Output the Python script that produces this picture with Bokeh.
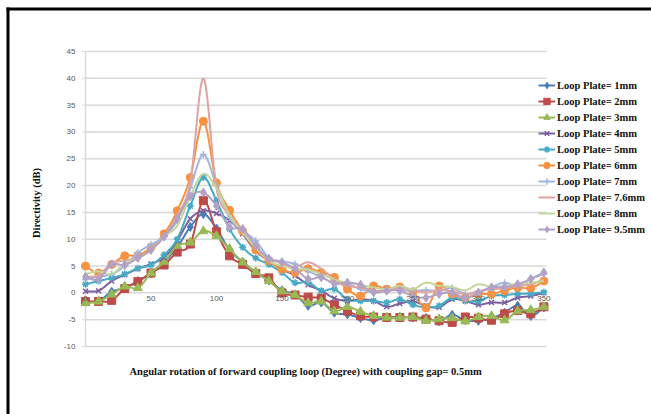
import numpy as np
from bokeh.plotting import figure
from bokeh.models import Range1d, Legend, LegendItem, BoxAnnotation, ColumnDataSource
from bokeh.core.properties import value
from bokeh.embed import file_html
from bokeh.resources import INLINE

# Angular rotation of the forward coupling loop (degrees)
angle = list(range(0, 360, 10))

# Directivity (dB) per loop plate size
plate_1mm = [-1.6, -1.5, 0.2, 0.9, 2.2, 3.7, 5.8, 8.5, 12.3, 14.7, 12.0, 8.0, 5.8, 3.8, 2.3, 0.5, -0.3, -2.4,
             -1.8, -3.7, -4.0, -4.7, -5.1, -4.6, -4.5, -4.6, -4.7, -5.3, -4.1, -5.1, -5.2, -4.7, -3.7, -2.4, -4.3, -2.7]
plate_2mm = [-1.6, -1.6, -1.4, 0.8, 2.1, 3.7, 5.2, 7.6, 9.1, 17.2, 11.4, 6.9, 5.3, 3.6, 2.8, 0.0, -0.4, -0.8,
             -1.0, -2.2, -3.4, -4.3, -4.5, -4.6, -4.6, -4.5, -4.9, -5.2, -5.5, -4.5, -4.7, -5.1, -3.9, -3.3, -3.9, -2.6]
plate_3mm = [-1.9, -1.6, -0.3, 1.2, 0.9, 3.7, 5.8, 8.8, 9.4, 11.5, 10.6, 8.2, 5.7, 3.9, 2.2, 0.3, -0.4, -1.9,
             -1.6, -3.4, -2.6, -3.5, -4.3, -4.6, -4.6, -4.5, -5.2, -4.9, -4.7, -5.3, -4.5, -4.3, -5.1, -3.4, -3.2, -2.6]
plate_4mm = [0.3, 0.4, 2.2, 3.4, 4.5, 5.4, 6.6, 9.7, 13.8, 15.3, 14.8, 13.5, 11.0, 7.8, 6.0, 4.4, 3.2, 1.5,
             0.4, -1.0, -1.5, -1.2, -1.5, -2.6, -2.0, -1.6, -2.4, -2.7, -1.2, -1.5, -2.2, -1.8, -1.8, -0.9, -0.6, 0.0]
plate_5mm = [1.6, 2.2, 2.8, 3.5, 4.6, 5.2, 7.1, 10.0, 16.2, 21.5, 17.2, 11.9, 8.5, 6.5, 5.3, 3.8, 1.9, 2.0,
             0.4, 0.7, -1.2, -1.5, -1.5, -1.8, -1.2, -2.2, -2.7, -2.4, -0.9, -1.5, -1.5, -0.6, -0.4, -0.2, -0.1, 0.1]
plate_6mm = [5.0, 3.7, 5.3, 6.9, 7.0, 8.5, 11.0, 15.3, 21.5, 32.0, 20.5, 15.4, 11.5, 8.0, 6.0, 4.4, 3.8, 4.5,
             3.8, 2.9, 0.7, -0.6, 1.3, 0.7, 1.1, 0.2, -2.8, 1.3, -0.2, -0.9, -0.2, -0.2, 0.4, 1.0, 0.9, 2.2]
plate_7mm = [2.5, 3.0, 3.5, 5.0, 7.5, 9.0, 10.5, 13.5, 19.6, 25.8, 20.0, 14.0, 11.6, 9.7, 6.6, 5.9, 5.4, 4.1,
             2.9, 1.9, 1.7, 0.7, 0.1, 0.7, 0.5, 0.4, 0.5, 0.4, 0.9, -0.2, 0.2, 1.1, 1.9, 1.3, 2.6, 3.5]
plate_7_6mm = [3.0, 3.3, 5.5, 6.0, 6.5, 8.0, 10.5, 14.5, 20.5, 40.0, 19.5, 14.5, 11.5, 8.5, 6.5, 5.5, 4.8, 5.7,
               4.5, 2.5, 1.3, 1.0, 0.4, 0.5, 0.9, 0.5, 0.1, 0.5, 0.3, -0.2, 0.3, 0.7, 0.8, 1.3, 1.6, 2.5]
plate_8mm = [3.5, 4.0, 3.5, 5.5, 6.5, 8.0, 10.5, 12.5, 18.0, 22.2, 19.5, 14.5, 11.2, 8.5, 6.0, 5.0, 4.5, 4.3,
             3.5, 2.5, 1.9, 1.5, 1.0, 0.7, 1.3, 0.7, 1.9, 1.3, 1.1, 0.5, 1.6, 1.1, 1.3, 1.7, 1.9, 2.2]
plate_9_5mm = [3.0, 2.5, 5.3, 5.2, 6.5, 8.0, 10.5, 13.8, 18.0, 18.7, 16.2, 12.3, 11.9, 8.8, 6.3, 5.7, 4.5, 2.6,
               2.9, 1.7, 1.9, 1.5, 0.1, 0.4, 0.4, -0.6, -0.9, -0.2, 0.0, -0.9, 0.0, 1.0, 1.1, 1.6, 2.6, 3.8]

series_labels = ["Loop Plate= 1mm", "Loop Plate= 2mm", "Loop Plate= 3mm", "Loop Plate= 4mm",
                 "Loop Plate= 5mm", "Loop Plate= 6mm", "Loop Plate= 7mm", "Loop Plate= 7.6mm",
                 "Loop Plate= 8mm", "Loop Plate= 9.5mm"]
series_values = [plate_1mm, plate_2mm, plate_3mm, plate_4mm, plate_5mm,
                 plate_6mm, plate_7mm, plate_7_6mm, plate_8mm, plate_9_5mm]
series_colors = ["#4A7EBB", "#BE4B48", "#98B954", "#7D60A0", "#46AAC5",
                 "#F69240", "#A2B7DE", "#DFA3A1", "#C3D79B", "#B3A2C7"]
series_markers = ["diamond", "square", "triangle", "x", "asterisk",
                  "circle", "cross", None, None, "diamond"]
marker_sizes = [9, 8, 9, 7, 7, 8, 7, 0, 0, 9]

y_ticks = list(range(-10, 50, 5))
x_ticks = [0, 50, 100, 150, 200, 250, 300, 350]
x_title = "Angular rotation of forward coupling loop (Degree) with coupling gap= 0.5mm"
y_title = "Directivity (dB)"

X_MAX = 352          # right end of the gridlines (degrees)
Y_MIN, Y_MAX = -10, 45

# page geometry: the plot area (in pixels) inside the 651x414 canvas
W, H = 651, 414
AREA_L, AREA_R, AREA_T, AREA_B = 85, 546, 51, 346
px_per_x = (AREA_R - AREA_L) / X_MAX
px_per_y = (AREA_B - AREA_T) / (Y_MAX - Y_MIN)
x_range = Range1d(-AREA_L / px_per_x, (W - AREA_L) / px_per_x)
y_range = Range1d(Y_MIN - (H - AREA_B) / px_per_y, Y_MAX + AREA_T / px_per_y)


def smooth(xs, ys, steps=12):
    """Catmull-Rom style smoothing (as a spreadsheet's smoothed line)."""
    x = np.asarray(xs, float)
    y = np.asarray(ys, float)
    n = len(x)
    px = np.concatenate([[x[0]], x, [x[-1]]])
    py = np.concatenate([[y[0]], y, [y[-1]]])
    out_x, out_y = [], []
    t = np.linspace(0, 1, steps, endpoint=False)
    for i in range(n - 1):
        p0x, p1x, p2x, p3x = px[i], px[i + 1], px[i + 2], px[i + 3]
        p0y, p1y, p2y, p3y = py[i], py[i + 1], py[i + 2], py[i + 3]
        c1x, c1y = p1x + (p2x - p0x) / 6, p1y + (p2y - p0y) / 6
        c2x, c2y = p2x - (p3x - p1x) / 6, p2y - (p3y - p1y) / 6
        b0 = (1 - t) ** 3
        b1 = 3 * (1 - t) ** 2 * t
        b2 = 3 * (1 - t) * t ** 2
        b3 = t ** 3
        out_x.extend(b0 * p1x + b1 * c1x + b2 * c2x + b3 * p2x)
        out_y.extend(b0 * p1y + b1 * c1y + b2 * c2y + b3 * p2y)
    out_x.append(x[-1])
    out_y.append(y[-1])
    return out_x, out_y


p = figure(width=W, height=H, output_backend="svg", toolbar_location=None,
           x_range=x_range, y_range=y_range,
           x_axis_location=None, y_axis_location=None,
           min_border=0)
p.background_fill_color = "white"
p.border_fill_color = "white"
p.outline_line_color = None
p.grid.visible = False

# horizontal gridlines
p.segment(x0=[0] * len(y_ticks), x1=[X_MAX] * len(y_ticks), y0=y_ticks, y1=y_ticks,
          line_color="#D9D9D9", line_width=1.5)
# vertical axis line at 0 degrees, with small outward ticks
p.segment(x0=[0], x1=[0], y0=[Y_MIN], y1=[Y_MAX], line_color="#D9D9D9", line_width=1.5)
p.scatter(x=[0] * len(y_ticks), y=y_ticks, marker="dash", size=7, line_color="#D9D9D9", line_width=1)

# y tick labels
p.text(x=[0] * len(y_ticks), y=y_ticks, text=[str(t) for t in y_ticks],
       text_align="right", text_baseline="middle", x_offset=-10,
       text_font=value("Liberation Sans"), text_font_size="8px", text_color="#595959")
# y axis title
p.text(x=[0], y=[(Y_MIN + Y_MAX) / 2], text=[y_title], angle=np.pi / 2,
       text_align="center", text_baseline="middle", x_offset=-49, y_offset=4,
       text_font=value("Liberation Serif"), text_font_style="bold",
       text_font_size="10.5px", text_color="#111111")
# x axis title
p.text(x=[(x_ticks[0] + x_ticks[-1]) / 2], y=[Y_MIN], text=[x_title],
       text_align="center", text_baseline="middle", x_offset=-9, y_offset=25,
       text_font=value("Liberation Serif"), text_font_style="bold",
       text_font_size="10.5px", text_color="#111111")

items = []
for label, vals, color, marker, msize in zip(series_labels, series_values, series_colors,
                                              series_markers, marker_sizes):
    sx, sy = smooth(angle, vals)
    line_r = p.line(sx, sy, line_color=color, line_width=2)
    rs = [line_r]
    if marker is not None:
        src = ColumnDataSource(dict(x=angle, y=vals))
        if marker in ("x", "asterisk", "cross"):
            m = p.scatter("x", "y", source=src, marker=marker, size=msize,
                          line_color=color, line_width=1.5)
        else:
            m = p.scatter("x", "y", source=src, marker=marker, size=msize,
                          fill_color=color, line_color=color)
        rs.append(m)
    items.append(LegendItem(label=label, renderers=rs))

# x tick labels sit on the zero line
p.text(x=x_ticks, y=[0] * len(x_ticks), text=[str(t) for t in x_ticks],
       text_align="center", text_baseline="top", y_offset=3,
       text_font=value("Liberation Sans"), text_font_size="8px", text_color="#595959")

legend = Legend(items=items, location=(538, H - 237))
legend.glyph_width = 17
legend.glyph_height = 16
legend.label_height = 16
legend.label_standoff = 2
legend.spacing = 0
legend.padding = 0
legend.margin = 0
legend.border_line_color = None
legend.background_fill_alpha = 0
legend.label_text_font = "Liberation Serif"
legend.label_text_font_style = "bold"
legend.label_text_font_size = "10.5px"
legend.label_text_color = "#111111"
p.add_layout(legend, "center")

# chart frame: only its left and top edges fall inside the page
frame_left = BoxAnnotation(left=6, right=9, top=7, bottom=H + 20,
                           left_units="canvas", right_units="canvas",
                           top_units="canvas", bottom_units="canvas",
                           fill_color="black", fill_alpha=1, line_color=None)
frame_top = BoxAnnotation(left=6, right=W + 20, top=7, bottom=10,
                          left_units="canvas", right_units="canvas",
                          top_units="canvas", bottom_units="canvas",
                          fill_color="black", fill_alpha=1, line_color=None)
p.add_layout(frame_left)
p.add_layout(frame_top)

open("out.html", "w").write(file_html(p, INLINE))
